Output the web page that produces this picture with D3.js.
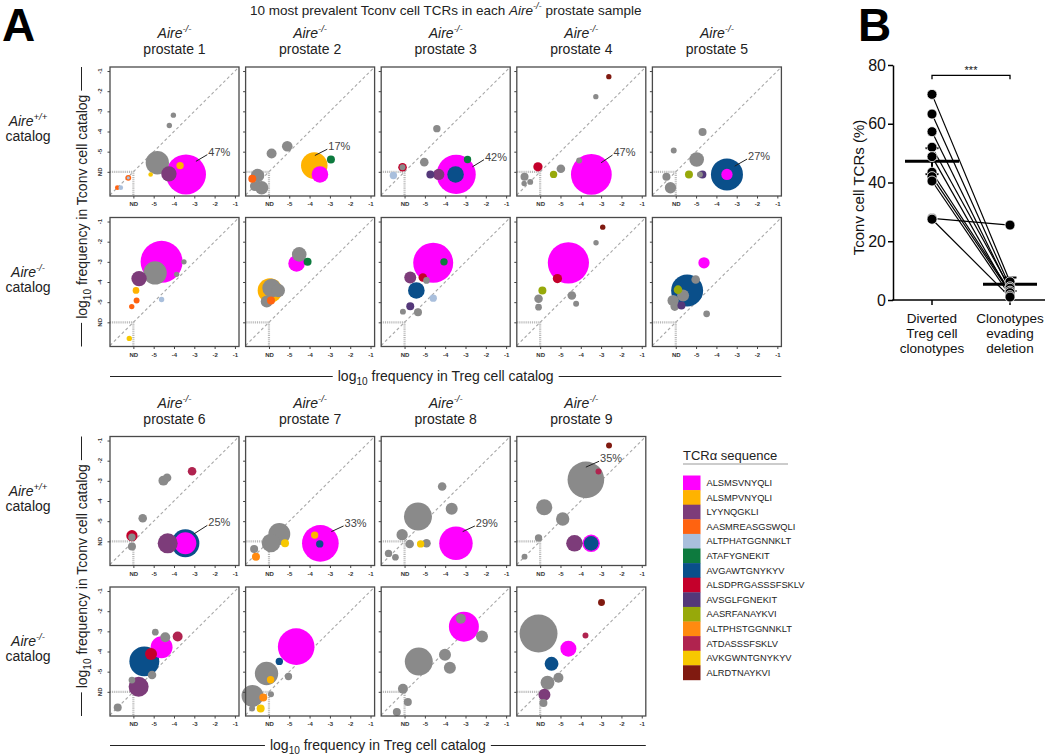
<!DOCTYPE html>
<html><head><meta charset="utf-8">
<script src="https://cdn.jsdelivr.net/npm/d3@7"></script>
<style>
body{margin:0;background:#fff}
svg{display:block}
text{font-family:"Liberation Sans",Arial,Helvetica,sans-serif}
</style>
</head><body>
<svg id="chart" width="1050" height="755"></svg>
<script>
// ---------------- DATA ----------------
const tcrSequences = ["ALSMSVNYQLI","ALSMPVNYQLI","LYYNQGKLI","AASMREASGSWQLI","ALTPHATGGNNKLT","ATAFYGNEKIT","AVGAWTGNYKYV","ALSDPRGASSSFSKLV","AVSGLFGNEKIT","AASRFANAYKVI","ALTPHSTGGNNKLT","ATDASSSFSKLV","AVKGWNTGNYKYV","ALRDTNAYKVI"];
const tcrColors = ["#ff00ff","#ffb300","#7d3c7a","#ff6310","#a9bfdc","#0d7a3e","#0a4f8a","#c4002b","#54387a","#97a90a","#ff8a10","#b0234f","#f7c800","#801a10"];
const otherColor = "#8a8a8a";

const freqTicks = [-6,-5,-4,-3,-2,-1];
const freqTickLabels = ["ND","-5","-4","-3","-2","-1"];

// [TCR, log10 freq Treg, log10 freq Tconv, % of prostate sample]
const prostate1_wt = [
 ["AASMREASGSWQLI",-6.79,-6.79,0.7],["ALTPHATGGNNKLT",-6.62,-6.79,0.7],
 ["AASMREASGSWQLI",-6.25,-6.3,1.1],["ALTPHATGGNNKLT",-6.25,-6.3,0.3],
 ["AVKGWNTGNYKYV",-5.15,-6.13,0.66],["other",-4.82,-5.55,17],
 ["other",-4.03,-3.19,0.9],["other",-4.23,-3.7,0.9],
 ["ALSMSVNYQLI",-3.41,-6.13,50],["LYYNQGKLI",-4.25,-6.1,7.4],["ALSMPVNYQLI",-3.7,-5.69,1.7]];
const prostate1_ko = [
 ["ALSMSVNYQLI",-4.61,-3.0,55],["other",-4.93,-3.55,17],["other",-3.51,-3.0,0.9],
 ["other",-3.87,-3.62,0.9],["LYYNQGKLI",-5.72,-3.83,7.4],["ALSMPVNYQLI",-5.87,-4.42,1.4],
 ["AASMREASGSWQLI",-5.84,-4.92,1.1],["AASMREASGSWQLI",-6.08,-5.22,0.9],
 ["ALTPHATGGNNKLT",-4.61,-4.87,0.9],["AVKGWNTGNYKYV",-6.2,-6.8,0.9]];
const prostate2_wt = [
 ["AASMREASGSWQLI",-6.82,-6.35,2],["other",-6.56,-6.18,5.6],["other",-6.36,-6.79,5.6],
 ["other",-6.69,-6.71,3.1],["other",-5.87,-5.09,3.1],["other",-5.1,-4.73,3.5],
 ["ALSMPVNYQLI",-3.77,-5.69,22],["ALSMSVNYQLI",-3.49,-6.13,8.6],["ATAFYGNEKIT",-2.95,-5.39,2]];
const prostate2_ko = [
 ["ALSMPVNYQLI",-5.95,-4.42,19],["other",-5.87,-4.3,10.8],["other",-5.54,-4.42,5.6],
 ["other",-6.11,-4.97,4.5],["AASMREASGSWQLI",-5.9,-4.92,2],["ALSMSVNYQLI",-4.64,-3.08,8.6],
 ["other",-4.51,-2.63,6.7],["ATAFYGNEKIT",-4.1,-3.0,2]];
const prostate3_wt = [
 ["ALTPHATGGNNKLT",-6.55,-6.18,1.7],["ALSDPRGASSSFSKLV",-6.1,-5.77,2.3],["other",-6.1,-5.77,1.1],
 ["other",-5.03,-5.52,2.3],["other",-4.41,-3.86,1.7],["ALSMSVNYQLI",-3.46,-6.13,48],
 ["AVGAWTGNYKYV",-3.49,-6.13,8.6],["AVSGLFGNEKIT",-4.73,-6.13,2],["LYYNQGKLI",-4.32,-6.13,4],
 ["ATAFYGNEKIT",-2.9,-5.39,1.7]];
const prostate3_ko = [
 ["ALSMSVNYQLI",-4.59,-3.05,50],["ATAFYGNEKIT",-4.06,-3.0,1.7],["LYYNQGKLI",-5.72,-3.78,4.5],
 ["ALSDPRGASSSFSKLV",-5.1,-3.78,2.3],["other",-4.92,-3.92,1.4],["AVGAWTGNYKYV",-5.42,-4.42,8.6],
 ["ALTPHATGGNNKLT",-4.59,-4.8,1.7],["AVSGLFGNEKIT",-5.72,-5.2,2],["other",-6.08,-5.47,1.1],
 ["other",-5.34,-5.5,2]];
const prostate4_wt = [
 ["ALRDTNAYKVI",-2.62,-1.28,0.9],["other",-3.26,-2.27,0.9],["ALSDPRGASSSFSKLV",-6.11,-5.75,2.7],
 ["other",-6.77,-6.25,2],["other",-6.49,-6.5,1.1],["other",-6.79,-6.58,0.9],
 ["AASRFANAYKVI",-5.34,-6.13,1.7],["other",-4.98,-5.85,2.3],["other",-4.08,-5.44,1.1],
 ["ALSMSVNYQLI",-3.48,-6.13,52]];
const prostate4_ko = [
 ["ALRDTNAYKVI",-2.92,-1.28,0.9],["other",-3.25,-2.05,0.9],["ALSMSVNYQLI",-4.61,-3.05,53],
 ["ALSDPRGASSSFSKLV",-5.15,-3.83,2.7],["AASRFANAYKVI",-5.89,-4.42,2],["other",-6.08,-4.83,2.3],
 ["other",-6.08,-5.25,1.4],["other",-4.44,-4.67,2.3],["other",-4.23,-5.08,1.1]];
const prostate5_wt = [
 ["other",-6.46,-6.25,2],["other",-6.26,-6.79,4],["other",-6.1,-4.94,1.1],
 ["other",-4.68,-4.03,2],["other",-4.97,-5.39,6.7],["AASRFANAYKVI",-5.35,-6.13,2],
 ["AVSGLFGNEKIT",-4.69,-6.13,2],["other",-4.81,-6.13,1.1],["AVGAWTGNYKYV",-3.48,-6.13,32],
 ["ALSMSVNYQLI",-3.48,-6.13,4]];
const prostate5_ko = [
 ["ALSMSVNYQLI",-4.61,-3.05,4],["AVGAWTGNYKYV",-5.44,-4.42,32],["other",-5.02,-3.88,2.3],
 ["AASRFANAYKVI",-5.89,-4.38,2.3],["other",-5.64,-4.67,4.5],["other",-6.13,-4.92,4],
 ["other",-6.05,-5.22,2.3],["AVSGLFGNEKIT",-5.72,-5.17,2],["other",-4.48,-5.58,1.4]];
const prostate6_wt = [
 ["ATDASSSFSKLV",-3.11,-2.52,2.3],["other",-4.52,-2.99,3.1],["other",-4.34,-2.85,2.3],
 ["other",-5.54,-4.86,2.3],["ALSDPRGASSSFSKLV",-6.07,-5.72,4],["other",-6.07,-5.8,1.7],
 ["other",-6.07,-6.26,2],["LYYNQGKLI",-4.31,-6.1,12.5],["AVGAWTGNYKYV",-3.44,-6.1,24.5],
 ["ALSMSVNYQLI",-3.44,-6.1,15]];
const prostate6_ko = [
 ["other",-4.92,-3.04,1.4],["other",-4.43,-3.29,3.1],["ATDASSSFSKLV",-3.82,-3.26,3.1],
 ["ALSMSVNYQLI",-4.61,-3.79,15],["ALSDPRGASSSFSKLV",-5.13,-4.12,4.5],["AVGAWTGNYKYV",-5.46,-4.49,28],
 ["other",-5.08,-5.17,2.3],["other",-6.07,-5.42,1.4],["LYYNQGKLI",-5.74,-5.75,12.5],
 ["other",-6.77,-6.78,2]];
const prostate7_wt = [
 ["other",-5.49,-5.64,15],["other",-5.9,-6.08,10.8],["other",-6.73,-6.38,2],
 ["ALTPHSTGGNNKLT",-6.64,-6.76,2],["AVKGWNTGNYKYV",-5.21,-6.1,2],["ALSMSVNYQLI",-3.47,-6.1,42],
 ["ALSMPVNYQLI",-3.75,-5.69,1.7],["AVGAWTGNYKYV",-3.5,-6.13,1.7]];
const prostate7_ko = [
 ["ALSMSVNYQLI",-4.66,-3.76,42],["AVGAWTGNYKYV",-5.49,-4.49,1.7],["other",-6.12,-5.09,17],
 ["ALSMPVNYQLI",-5.92,-5.4,1.7],["other",-5.04,-5.24,1.7],["other",-6.81,-6.2,15],
 ["ALTPHSTGGNNKLT",-6.28,-6.28,2],["other",-5.9,-6.12,1.1],["AVKGWNTGNYKYV",-6.41,-6.83,2],
 ["other",-6.83,-6.83,1.1]];
const prostate8_wt = [
 ["other",-4.15,-3.28,2.3],["other",-3.68,-4.39,4.5],["other",-5.34,-4.77,24.5],
 ["other",-6.12,-5.67,4],["other",-5.75,-6.13,2.3],["AVKGWNTGNYKYV",-5.21,-6.13,1.7],
 ["other",-4.92,-6.1,2.3],["other",-6.79,-6.6,1.7],["other",-6.45,-6.79,1.4],
 ["ALSMSVNYQLI",-3.47,-6.1,35]];
const prostate8_ko = [
 ["ALSMSVNYQLI",-3.08,-2.77,28],["other",-3.23,-2.37,3.1],["other",-2.19,-3.26,4.5],
 ["other",-5.3,-4.5,24.5],["other",-4.01,-4.16,4.5],["other",-3.77,-4.81,4.5],
 ["other",-6.08,-5.85,3.1],["other",-5.84,-6.5,2],["other",-6.38,-7.0,2]];
const prostate9_wt = [
 ["ALRDTNAYKVI",-2.61,-1.25,1.1],["ATDASSSFSKLV",-3.13,-2.54,1.1],["other",-3.75,-2.95,42],
 ["other",-5.8,-4.31,8],["other",-4.89,-4.89,5.6],["other",-6.08,-5.83,1.7],
 ["other",-6.77,-6.76,1.1],["LYYNQGKLI",-4.31,-6.1,8.6],["ALSMSVNYQLI",-3.49,-6.1,9.5],
 ["AVGAWTGNYKYV",-3.49,-6.1,6.7]];
const prostate9_ko = [
 ["other",-6.08,-3.11,45],["ALRDTNAYKVI",-2.98,-1.57,1.5],["ATDASSSFSKLV",-3.77,-3.21,1.1],
 ["ALSMSVNYQLI",-4.61,-3.86,8],["AVGAWTGNYKYV",-5.44,-4.61,6],["other",-5.64,-5.55,6],
 ["other",-5.1,-5.3,3.1],["LYYNQGKLI",-5.79,-6.15,4.5],["other",-5.84,-6.55,2]];

// percentage annotations in Aire+/+ catalog panels (text pos / leader start, in log10 units)
const pctLabels = [
 {p:1,text:"47%",tx:-2.31,ty:-5.0,lx:-2.92,ly:-5.48},
 {p:2,text:"17%",tx:-3.08,ty:-4.73,lx:-3.74,ly:-5.19},
 {p:3,text:"42%",tx:-2.04,ty:-5.25,lx:-2.66,ly:-5.75},
 {p:4,text:"47%",tx:-2.39,ty:-5.02,lx:-3.0,ly:-5.55},
 {p:5,text:"27%",tx:-2.44,ty:-5.22,lx:-3.1,ly:-5.72},
 {p:6,text:"25%",tx:-2.31,ty:-5.06,lx:-3.03,ly:-5.64},
 {p:7,text:"33%",tx:-2.28,ty:-5.09,lx:-2.93,ly:-5.52},
 {p:8,text:"29%",tx:-2.49,ty:-5.09,lx:-3.14,ly:-5.52},
 {p:9,text:"35%",tx:-3.05,ty:-1.88,lx:-3.75,ly:-2.32}];

// Panel B
const bCategoryLines = [["Diverted","Treg cell","clonotypes"],["Clonotypes","evading","deletion"]];
const bDiverted = [70,63.3,57.3,52,48.8,43.5,42,40.5,27.8,27.5];
const bEvading  = [6.2,4.5,3.4,4,2,3,2.5,1.5,25.5,1];
const bYTicks = [0,20,40,60,80];
const bSignificance = "***";

// ---------------- LAYOUT ----------------
const svg = d3.select("#chart");
const FONT = '"Liberation Sans",Arial,Helvetica,sans-serif';
const PW = 129, PH = 129;
const colLeft = i => 110 + i*135.6;
const topRows = [67, 217.5], botRows = [436.5, 587];
const colorOf = k => k === "other" ? otherColor : tcrColors[tcrSequences.indexOf(k)];
const rScale = d3.scaleSqrt().domain([0,50]).range([0,20]);

function rich(sel, parts, size){
  parts.forEach(p=>{
    const t = sel.append("tspan").text(p.t);
    if (p.i) t.attr("font-style","italic");
    if (p.sup){ t.attr("font-size", size*0.68).attr("dy", -size*0.42); }
    if (p.sub){ t.attr("font-size", size*0.72).attr("dy", size*0.3); }
    if (p.back) t.attr("dy", p.back*size);
  });
  return sel;
}

function drawPanel(left, top, data, showY, label){
  const g = svg.append("g").attr("transform",`translate(${left},${top})`);
  const x = d3.scaleLinear().domain([-7.15,-0.8]).range([0,PW]);
  const y = d3.scaleLinear().domain([-7.2,-0.8]).range([PH,0]);
  g.append("line").attr("x1",x(-7.15)).attr("y1",y(-7.15)).attr("x2",x(-0.8)).attr("y2",y(-0.8))
   .attr("stroke","#a8a8a8").attr("stroke-width",1.1).attr("stroke-dasharray","3,2.5");
  g.append("path").attr("d",`M${x(-7.15)},${y(-6)}H${x(-6)}V${y(-7.2)}`)
   .attr("fill","none").attr("stroke","#b8b8b8").attr("stroke-width",2.2).attr("stroke-dasharray","1,0.9");
  const sorted = data.map((d,i)=>({d,i})).sort((a,b)=> (b.d[3]-a.d[3]) || (a.i-b.i)).map(o=>o.d);
  g.selectAll("circle.c").data(sorted).join("circle").attr("class","c")
   .attr("cx",d=>x(d[1])).attr("cy",d=>y(d[2])).attr("r",d=>rScale(d[3])).attr("fill",d=>colorOf(d[0]));
  if (label){
    g.append("line").attr("x1",x(label.lx)).attr("y1",y(label.ly)).attr("x2",x(label.tx)-1).attr("y2",y(label.ty)+3)
     .attr("stroke","#222").attr("stroke-width",1);
    g.append("text").attr("x",x(label.tx)).attr("y",y(label.ty)).attr("dy","0.35em")
     .attr("font-size",11).attr("fill","#444").text(label.text);
  }
  g.append("rect").attr("width",PW).attr("height",PH).attr("fill","none").attr("stroke","#4a4a4a").attr("stroke-width",1.3);
  const xa = g.append("g").attr("transform",`translate(0,${PH})`)
   .call(d3.axisBottom(x).tickValues(freqTicks).tickFormat((d,i)=>freqTickLabels[i]).tickSize(2.5).tickPadding(3.5));
  xa.select(".domain").remove();
  xa.selectAll("line").attr("stroke","#444");
  xa.selectAll("text").attr("font-size",6).attr("font-weight","bold").attr("fill","#333").attr("font-family",FONT);
  const ya = g.append("g").call(d3.axisLeft(y).tickValues(freqTicks).tickSize(2.5).tickFormat(""));
  ya.select(".domain").remove();
  ya.selectAll("line").attr("stroke","#444");
  if (showY){
    g.selectAll("text.yl").data(freqTicks).join("text").attr("class","yl")
     .attr("transform",d=>`translate(-10,${y(d)}) rotate(-90)`).attr("text-anchor","middle").attr("dy","0.35em")
     .attr("font-size",6).attr("font-weight","bold").attr("fill","#333").text((d,i)=>freqTickLabels[i]);
  }
}

const wtData = [prostate1_wt,prostate2_wt,prostate3_wt,prostate4_wt,prostate5_wt,prostate6_wt,prostate7_wt,prostate8_wt,prostate9_wt];
const koData = [prostate1_ko,prostate2_ko,prostate3_ko,prostate4_ko,prostate5_ko,prostate6_ko,prostate7_ko,prostate8_ko,prostate9_ko];

for (let p=1; p<=9; p++){
  const top = p<=5;
  const col = top ? p-1 : p-6;
  const rows = top ? topRows : botRows;
  const left = colLeft(col);
  drawPanel(left, rows[0], wtData[p-1], col===0, pctLabels.find(l=>l.p===p));
  drawPanel(left, rows[1], koData[p-1], col===0, null);
  const cx = left + PW/2;
  const b1 = top ? 38 : 407.5, b2 = top ? 54 : 424;
  rich(svg.append("text").attr("x",cx).attr("y",b1).attr("text-anchor","middle").attr("font-size",14).attr("fill","#222"),
    [{t:"Aire",i:1},{t:"-/-",i:1,sup:1}],14);
  svg.append("text").attr("x",cx).attr("y",b2).attr("text-anchor","middle").attr("font-size",14).attr("fill","#222").text("prostate "+p);
}

// row labels
[[topRows[0],"+/+"],[topRows[1],"-/-"],[botRows[0],"+/+"],[botRows[1],"-/-"]].forEach(([t,g])=>{
  rich(svg.append("text").attr("x",28).attr("y",t+59).attr("text-anchor","middle").attr("font-size",14).attr("fill","#222"),
    [{t:"Aire",i:1},{t:g,i:1,sup:1}],14);
  svg.append("text").attr("x",28).attr("y",t+74).attr("text-anchor","middle").attr("font-size",14).attr("fill","#222").text("catalog");
});

// axis titles with rule lines
function yTitle(y0, y1){
  const cy = (y0+y1)/2;
  const t = rich(svg.append("text").attr("transform",`translate(87,${cy}) rotate(-90)`).attr("text-anchor","middle")
     .attr("font-size",14).attr("fill","#222"),
     [{t:"log"},{t:"10",sub:1},{t:" frequency in Tconv cell catalog",back:-0.3}],14);
  const L = t.node().getComputedTextLength();
  svg.append("line").attr("x1",81.5).attr("x2",81.5).attr("y1",y0).attr("y2",cy-L/2-4).attr("stroke","#222").attr("stroke-width",1);
  svg.append("line").attr("x1",81.5).attr("x2",81.5).attr("y1",cy+L/2+4).attr("y2",y1).attr("stroke","#222").attr("stroke-width",1);
}
function xTitle(x0, x1, base){
  const cx = (x0+x1)/2;
  const t = rich(svg.append("text").attr("x",cx).attr("y",base).attr("text-anchor","middle").attr("font-size",14).attr("fill","#222"),
     [{t:"log"},{t:"10",sub:1},{t:" frequency in Treg cell catalog",back:-0.3}],14);
  const L = t.node().getComputedTextLength();
  svg.append("line").attr("x1",x0).attr("x2",cx-L/2-5).attr("y1",base-4.5).attr("y2",base-4.5).attr("stroke","#222").attr("stroke-width",1);
  svg.append("line").attr("x1",cx+L/2+5).attr("x2",x1).attr("y1",base-4.5).attr("y2",base-4.5).attr("stroke","#222").attr("stroke-width",1);
}
yTitle(topRows[0], topRows[1]+PH);
yTitle(botRows[0], botRows[1]+PH);
xTitle(colLeft(0), colLeft(4)+PW, 381);
xTitle(colLeft(0), colLeft(3)+PW, 750);

// main title
rich(svg.append("text").attr("x",(colLeft(0)+colLeft(4)+PW)/2).attr("y",15).attr("text-anchor","middle").attr("font-size",13.5).attr("fill","#222"),
  [{t:"10 most prevalent Tconv cell TCRs in each "},{t:"Aire",i:1},{t:"-/-",sup:1,i:1},{t:" prostate sample",back:0.42}],13.5);

// panel letters
svg.append("text").attr("x",2).attr("y",41).attr("font-size",46).attr("font-weight","bold").text("A");
svg.append("text").attr("x",858).attr("y",41).attr("font-size",46).attr("font-weight","bold").text("B");

// legend
const lg = svg.append("g").attr("transform","translate(683,0)");
lg.append("text").attr("x",0).attr("y",460).attr("font-size",13).attr("fill","#222").text("TCR\u03b1 sequence");
lg.append("line").attr("x1",0).attr("x2",105).attr("y1",464).attr("y2",464).attr("stroke","#999").attr("stroke-width",1);
const ly = d3.scaleBand().domain(tcrSequences).range([475.5, 475.5+14.6*tcrSequences.length]);
lg.selectAll("rect.sw").data(tcrSequences).join("rect").attr("class","sw")
  .attr("x",0).attr("y",d=>ly(d)).attr("width",17.5).attr("height",ly.bandwidth()+0.3).attr("fill",(d,i)=>tcrColors[i]);
lg.selectAll("text.lt").data(tcrSequences).join("text").attr("class","lt")
  .attr("x",23.5).attr("y",d=>ly(d)+ly.bandwidth()/2).attr("dy","0.35em").attr("font-size",9.3).attr("fill","#222").text(d=>d);

// ---------------- PANEL B ----------------
const bx = d3.scalePoint().domain([0,1]).range([932,1010]);
const by = d3.scaleLinear().domain([0,80]).range([300,65]);
const bg = svg.append("g");
const yax = bg.append("g").attr("transform","translate(893,0)")
  .call(d3.axisLeft(by).tickValues(bYTicks).tickSize(5).tickSizeOuter(0).tickPadding(2));
yax.select(".domain").attr("stroke","#000").attr("stroke-width",1.5);
yax.selectAll("line").attr("stroke","#000").attr("stroke-width",1.5);
yax.selectAll("text").attr("font-size",16).attr("fill","#111").attr("font-family",FONT);
bg.append("line").attr("x1",892.25).attr("x2",1045).attr("y1",by(0)).attr("y2",by(0)).attr("stroke","#000").attr("stroke-width",1.5);
[0,1].forEach(c=>bg.append("line").attr("x1",bx(c)).attr("x2",bx(c)).attr("y1",by(0)).attr("y2",by(0)+5).attr("stroke","#000").attr("stroke-width",1.5));
bCategoryLines.forEach((lines,c)=>lines.forEach((s,k)=>
  bg.append("text").attr("x",bx(c)).attr("y",323+k*15).attr("text-anchor","middle").attr("font-size",13.5).attr("fill","#111").text(s)));
bg.append("text").attr("transform",`translate(864,${(by(0)+by(80))/2+5}) rotate(-90)`).attr("text-anchor","middle")
  .attr("font-size",15).attr("fill","#111").text("Tconv cell TCRs (%)");
// pair lines
bg.selectAll("line.pair").data(bDiverted).join("line").attr("class","pair")
  .attr("x1",bx(0)).attr("y1",d=>by(d)).attr("x2",bx(1)).attr("y2",(d,i)=>by(bEvading[i]))
  .attr("stroke","#000").attr("stroke-width",1.2);
// mean ± SEM
[bDiverted,bEvading].forEach((vals,c)=>{
  const m = d3.mean(vals), sem = d3.deviation(vals)/Math.sqrt(vals.length);
  const cx = bx(c);
  bg.append("line").attr("x1",cx).attr("x2",cx).attr("y1",by(m-sem)).attr("y2",by(m+sem)).attr("stroke","#000").attr("stroke-width",2);
  [m-sem,m+sem].forEach(v=>bg.append("line").attr("x1",cx-6.5).attr("x2",cx+6.5).attr("y1",by(v)).attr("y2",by(v)).attr("stroke","#000").attr("stroke-width",2));
  bg.append("line").attr("x1",cx-27).attr("x2",cx+27).attr("y1",by(m)).attr("y2",by(m)).attr("stroke","#000").attr("stroke-width",3);
});
// dots
[bDiverted,bEvading].forEach((vals,c)=>{
  bg.selectAll(null).data(vals).join("circle").attr("cx",bx(c)).attr("cy",d=>by(d)).attr("r",5)
    .attr("fill","#000").attr("stroke","#fff").attr("stroke-width",0.8);
});
// significance bracket
const yb = by(76.5);
bg.append("path").attr("d",`M${bx(0)},${yb+4}V${yb}H${bx(1)}V${yb+4}`).attr("fill","none").attr("stroke","#000").attr("stroke-width",1.3);
bg.append("text").attr("x",(bx(0)+bx(1))/2).attr("y",yb-1.5).attr("text-anchor","middle").attr("font-size",11).attr("fill","#111").text(bSignificance);
</script>
</body></html>
